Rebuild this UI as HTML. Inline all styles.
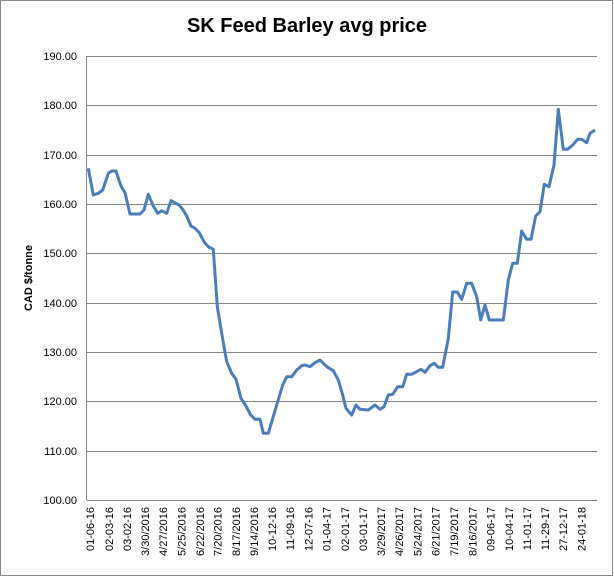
<!DOCTYPE html>
<html><head><meta charset="utf-8"><style>body{margin:0;background:#fff}</style></head><body>
<svg width="614" height="577" viewBox="0 0 614 577" xmlns="http://www.w3.org/2000/svg" font-family="Liberation Sans, sans-serif">
<rect x="0.5" y="0.5" width="612" height="575" fill="#fff" stroke="#888"/>
<text x="307" y="32" text-anchor="middle" font-size="20" font-weight="bold">SK Feed Barley avg price</text>
<g stroke="#868686" stroke-width="1">
<line x1="87" y1="56.5" x2="597" y2="56.5"/><line x1="87" y1="105.5" x2="597" y2="105.5"/><line x1="87" y1="155.5" x2="597" y2="155.5"/><line x1="87" y1="204.5" x2="597" y2="204.5"/><line x1="87" y1="253.5" x2="597" y2="253.5"/><line x1="87" y1="303.5" x2="597" y2="303.5"/><line x1="87" y1="352.5" x2="597" y2="352.5"/><line x1="87" y1="401.5" x2="597" y2="401.5"/><line x1="87" y1="451.5" x2="597" y2="451.5"/><line x1="87" y1="500.5" x2="597" y2="500.5"/>
<line x1="86.5" y1="56" x2="86.5" y2="500"/>
</g>
<g font-size="11" text-anchor="end">
<text x="77" y="60">190.00</text><text x="77" y="109">180.00</text><text x="77" y="159">170.00</text><text x="77" y="208">160.00</text><text x="77" y="257">150.00</text><text x="77" y="307">140.00</text><text x="77" y="356">130.00</text><text x="77" y="405">120.00</text><text x="77" y="455">110.00</text><text x="77" y="504">100.00</text>
</g>
<text transform="translate(32,278) rotate(-90)" text-anchor="middle" font-size="11" font-weight="bold">CAD $/tonne</text>
<g font-size="11" text-anchor="end">
<text transform="translate(94,507) rotate(-90)">01-06-16</text>
<text transform="translate(113,507) rotate(-90)">02-03-16</text>
<text transform="translate(131,507) rotate(-90)">03-02-16</text>
<text transform="translate(149,507) rotate(-90)">3/30/2016</text>
<text transform="translate(167,507) rotate(-90)">4/27/2016</text>
<text transform="translate(185.5,507) rotate(-90)">5/25/2016</text>
<text transform="translate(204,507) rotate(-90)">6/22/2016</text>
<text transform="translate(221.5,507) rotate(-90)">7/20/2016</text>
<text transform="translate(240,507) rotate(-90)">8/17/2016</text>
<text transform="translate(258,507) rotate(-90)">9/14/2016</text>
<text transform="translate(276,507) rotate(-90)">10-12-16</text>
<text transform="translate(294,507) rotate(-90)">11-09-16</text>
<text transform="translate(312.5,507) rotate(-90)">12-07-16</text>
<text transform="translate(330.5,507) rotate(-90)">01-04-17</text>
<text transform="translate(349,507) rotate(-90)">02-01-17</text>
<text transform="translate(367,507) rotate(-90)">03-01-17</text>
<text transform="translate(385,507) rotate(-90)">3/29/2017</text>
<text transform="translate(403,507) rotate(-90)">4/26/2017</text>
<text transform="translate(421.5,507) rotate(-90)">5/24/2017</text>
<text transform="translate(439.5,507) rotate(-90)">6/21/2017</text>
<text transform="translate(458,507) rotate(-90)">7/19/2017</text>
<text transform="translate(476.5,507) rotate(-90)">8/16/2017</text>
<text transform="translate(494.5,507) rotate(-90)">09-06-17</text>
<text transform="translate(513,507) rotate(-90)">10-04-17</text>
<text transform="translate(531,507) rotate(-90)">11-01-17</text>
<text transform="translate(549,507) rotate(-90)">11-29-17</text>
<text transform="translate(567,507) rotate(-90)">27-12-17</text>
<text transform="translate(585.5,507) rotate(-90)">24-01-18</text>
</g>
<polyline fill="none" stroke="#4A7EBB" stroke-width="3" stroke-linejoin="round" points="88.3,168.3 93.3,195 98.3,193.3 102.7,190 108.3,173.3 111.7,171 116,171 120,183.3 121.7,187.3 125,192.7 130,214 140,214 144,210 148.3,194.3 153.3,206 157.7,213.3 161.7,210.7 166.7,213.3 171,200.7 179,205 182.7,209.3 186.7,216 191,226 195,228.3 199.3,232.7 204,241.7 208.3,246.7 213.3,249.3 217.3,306.7 221.7,333.3 226.7,361.7 231.7,373.3 236,379.3 241,398.3 246,406 250.7,415 255,419.3 260,419.3 263.3,433.3 268.3,433.3 276.7,405 282.7,385 286.7,376.7 291.7,376.7 296.7,370 301.7,365.7 305,365 310,366.7 315,362.7 320,360 325,365 328.3,367.7 333.3,370.7 338.3,380 342.7,395 346,408.3 351.7,415 356,405 360,409.3 368.3,410 375,405 380,409.3 384,406.7 388.3,395 392.7,394.3 397.7,386.7 402.7,386.7 406.7,374.3 411.7,374.3 421,369.3 425,372.3 430,365.7 434.3,363.3 438.3,367.3 442.7,367.3 448.3,338.3 452.7,292 457.3,292 461.7,299.3 466.7,283.3 471.7,283.3 476.7,296.7 480.7,320 485,305 489.3,320 503.3,320 508.3,280 512.7,263.3 517.3,263.3 521.7,231 526.7,239.3 531,239.3 535.7,216 540,211.7 544.3,184.3 549,186.7 554,165 558.3,109.3 563.3,149.3 567.7,149.3 572.7,145 577.7,139.3 581.7,139.3 586.7,142.7 590,133.3 595,130"/>
</svg>
</body></html>
